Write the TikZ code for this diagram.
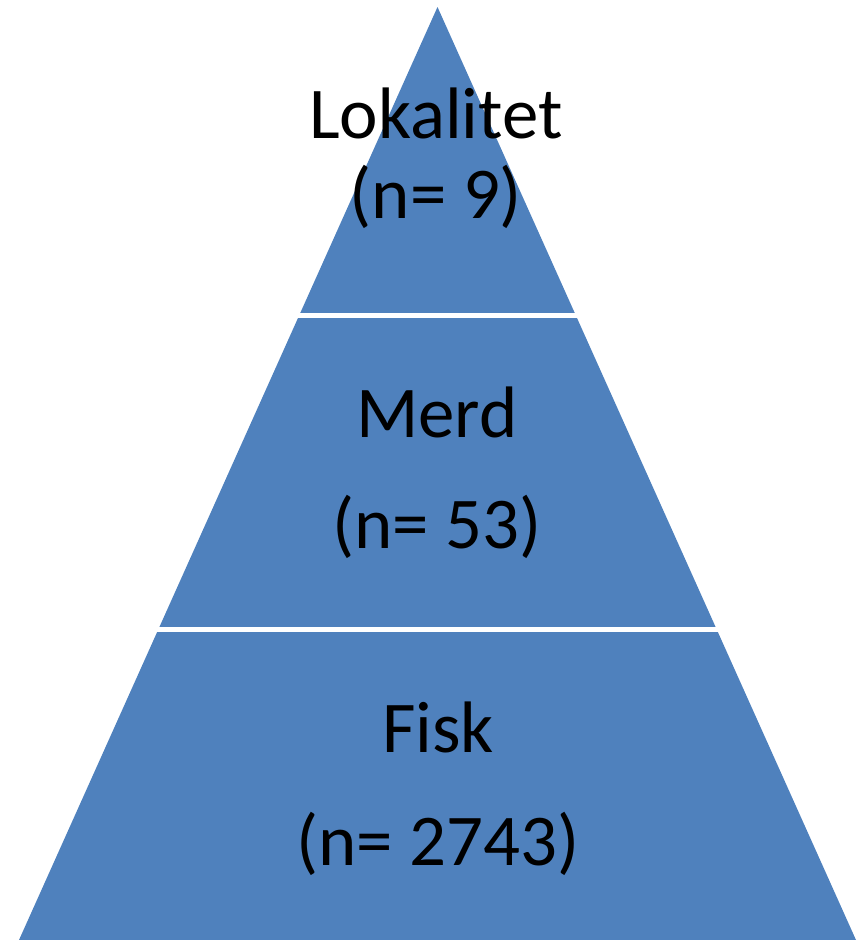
\documentclass[tikz,border=0pt]{standalone}
\usepackage{fontspec}
\setmainfont{Carlito}
\usepackage{xcolor}
\usepackage{tikz}
\usetikzlibrary{positioning,calc}

\definecolor{pyrblue}{HTML}{4F81BD}

\begin{document}
\begin{tikzpicture}[x=0.02cm, y=-0.02cm,
    tier/.style={fill=pyrblue},
    gap/.style={white, line width=0.1cm},
    lbl/.style={inner sep=0pt, anchor=base, font=\fontsize{41.5}{48}\selectfont}]
  \useasboundingbox (0,0) rectangle (865,940);
  % pyramid outline
  \coordinate (apex) at (437.5,7);
  \coordinate (bl) at (19,940);
  \coordinate (br) at (856,940);
  \fill[tier] (apex) -- (br) -- (bl) -- cycle;
  % white gaps between the tiers
  \draw[gap] (250,315.5) -- (630,315.5);
  \draw[gap] (100,629.5) -- (780,629.5);
  % labels
  \node[lbl] (lok)  at (436,138) {Lokalitet};
  \node[lbl] (lokn) at (436,218) {(n= 9)};
  \node[lbl] (merd)  at (437,437) {Merd};
  \node[lbl] (merdn) at (437,548) {(n= 53)};
  \node[lbl] (fisk)  at (438,752) {Fisk};
  \node[lbl] (fiskn) at (438,865) {(n= 2743)};
\end{tikzpicture}
\end{document}
